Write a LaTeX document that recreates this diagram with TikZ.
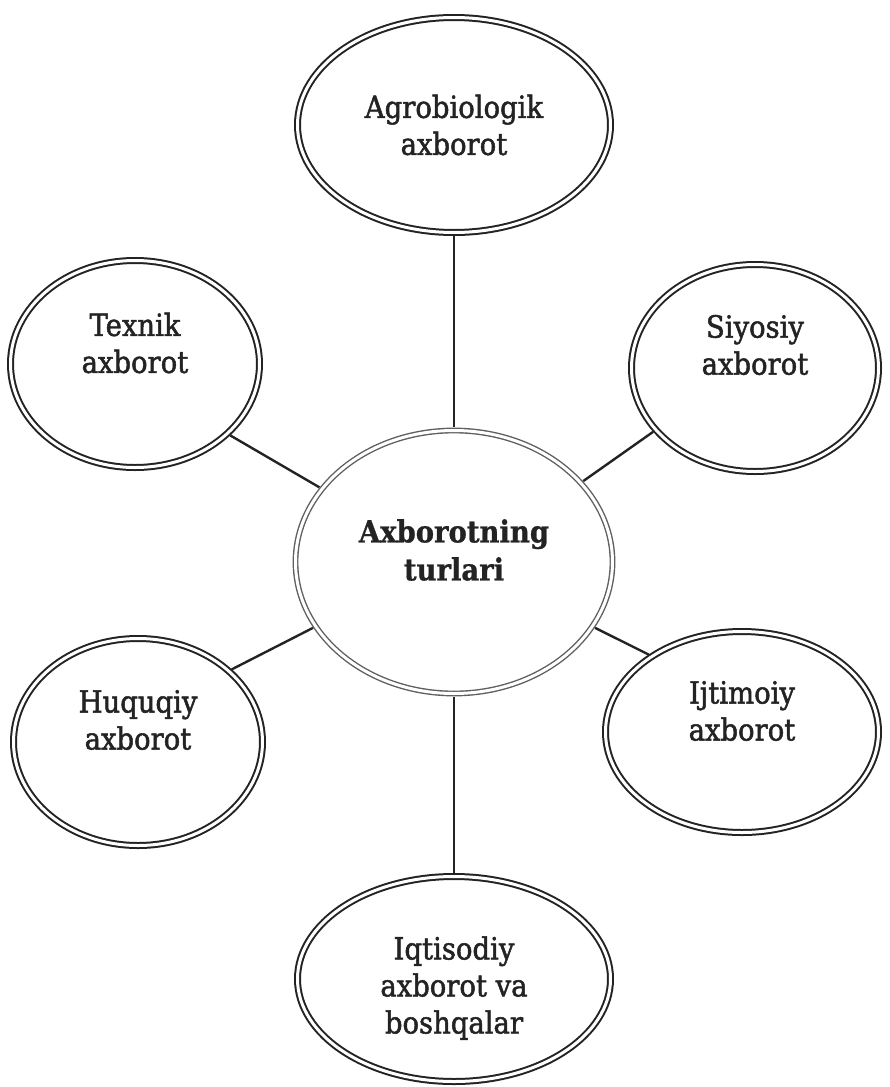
\documentclass[tikz,border=0pt]{standalone}
\usepackage{fontspec}
\setmainfont{DejaVu Serif}[FakeStretch=0.9, UprightFeatures={FakeBold=1.6}, BoldFeatures={FakeBold=0.8}]
\usetikzlibrary{shapes.geometric}
\definecolor{ink}{RGB}{35,35,35}
\definecolor{inklight}{RGB}{95,95,95}
\tikzset{
 oval/.style={ellipse, draw=ink, line width=2pt, double=white, double distance=3pt, inner sep=0pt},
 hub/.style={oval, draw=inklight, line width=1.4pt},
 lbl/.style={align=center, text=ink, font=\fontsize{30.5}{37}\selectfont},
 link/.style={draw=ink, line width=2.4pt, shorten <=2.5pt, shorten >=2.5pt}
}
\begin{document}
\begin{tikzpicture}[x=1pt, y=-1pt]
\useasboundingbox (0,0) rectangle (889,1087);
\fill[white] (0,0) rectangle (889,1087);

% centre of the scheme
\node[hub, minimum width=317, minimum height=263, label={[lbl, font=\fontsize{30.5}{38}\selectfont\bfseries, yshift=12pt]center:Axborotning\\turlari}] (turlar) at (454,562) {};

% kinds of information
\node[oval, minimum width=313, minimum height=215, label={[lbl]center:Agrobiologik\\axborot}] (agro) at (454,125) {};
\node[oval, minimum width=249, minimum height=207, label={[lbl, yshift=21pt]center:Texnik\\axborot}] (texnik) at (135,364) {};
\node[oval, minimum width=247, minimum height=207, label={[lbl, yshift=23pt]center:Siyosiy\\axborot}] (siyosiy) at (755,368) {};
\node[oval, minimum width=249, minimum height=207, label={[lbl, yshift=22pt]center:Huquqiy\\axborot}] (huquqiy) at (138,742) {};
\node[oval, minimum width=273, minimum height=201, label={[lbl, yshift=21pt]center:Ijtimoiy\\axborot}] (ijtimoiy) at (742,732) {};
\node[oval, minimum width=313, minimum height=205, label={[lbl, yshift=-9pt]center:Iqtisodiy\\axborot va\\boshqalar}] (iqtisod) at (454,979) {};

\draw[link] (agro.south) -- (turlar.north);
\draw[link] (texnik.-37) -- (turlar.151);
\draw[link] (siyosiy.212) -- (turlar.32);
\draw[link] (huquqiy.38) -- (turlar.205);
\draw[link] (ijtimoiy.140) -- (turlar.-25);
\draw[link] (turlar.south) -- (iqtisod.north);

\end{tikzpicture}
\end{document}
